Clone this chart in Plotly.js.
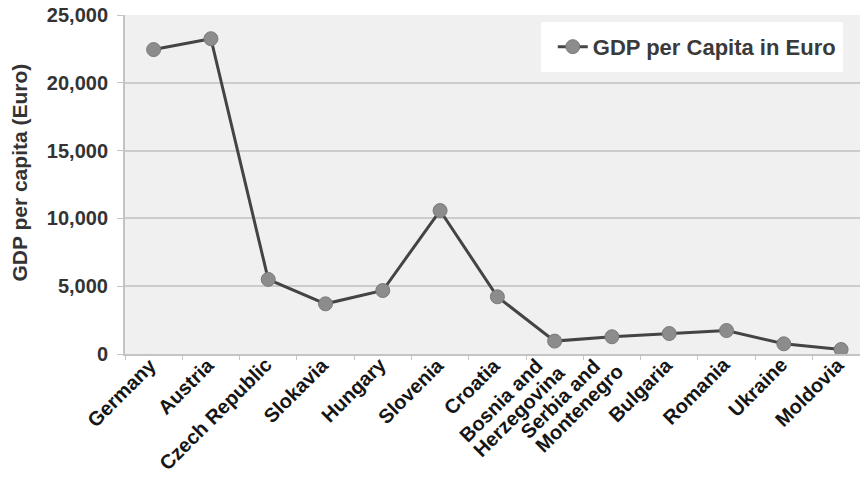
<!DOCTYPE html>
<html>
<head>
<meta charset="utf-8">
<script src="https://cdn.plot.ly/plotly-3.0.1.min.js"></script>
<style>
html,body{margin:0;padding:0;background:#fff;overflow:hidden;}
#chart{width:860px;height:484px;}
</style>
</head>
<body>
<div id="chart"></div>
<script>
const countries = ["Germany","Austria","Czech Republic","Slokavia","Hungary","Slovenia","Croatia","Bosnia and<br>Herzegovina","Serbia and<br>Montenegro","Bulgaria","Romania","Ukraine","Moldovia"];
const gdpPerCapita = [22450,23250,5500,3700,4680,10580,4220,950,1270,1510,1730,750,330];
const yTicks = [0,5000,10000,15000,20000,25000];
const yTickLabels = ["0","5,000","10,000","15,000","20,000","25,000"];
const seriesName = "GDP per Capita in Euro";
const yTitle = "GDP per capita (Euro)";

const FONT = "Liberation Sans, Arial, sans-serif";
const XFONT_SIZE = 20;
const LINE_STEP = 20;      // perpendicular spacing between label lines (px)
const BASE_DX = 9, BASE_DY = 2;

// measure label line widths to left-align multi-line rotated labels
const cv = document.createElement("canvas").getContext("2d");
cv.font = "bold " + XFONT_SIZE + "px 'Liberation Sans', Arial, sans-serif";
const R = Math.SQRT1_2;
const labelAnnotations = [];
countries.forEach(function (cat) {
  const lines = cat.split("<br>");
  const widths = lines.map(function (s) { return cv.measureText(s).width; });
  const maxW = Math.max.apply(null, widths);
  const n = lines.length;
  lines.forEach(function (s, j) {
    const p = (j - (n - 1) / 2) * LINE_STEP;   // perpendicular (down-right)
    const a = -(maxW - widths[j]);              // along text direction
    labelAnnotations.push({
      text: s, x: cat, xref: "x", y: 0, yref: "paper",
      xanchor: "right", yanchor: "top", textangle: -45, showarrow: false,
      borderpad: 0,
      xshift: BASE_DX + a * R + p * R,
      yshift: BASE_DY + a * R - p * R,
      font: {family: FONT, size: XFONT_SIZE, color: "#151515", weight: "bold"}
    });
  });
});

const trace = {
  x: countries,
  y: gdpPerCapita,
  type: "scatter",
  mode: "lines+markers",
  name: seriesName,
  line: {color: "#444444", width: 3},
  marker: {color: "#8c8c8c", size: 14, line: {color: "#7a7a7a", width: 1}},
  hoverinfo: "none"
};

const layout = {
  width: 860,
  height: 484,
  margin: {l: 125, r: 0, t: 15, b: 130, pad: 0},
  paper_bgcolor: "#ffffff",
  plot_bgcolor: "#f0f0f0",
  font: {family: FONT, color: "#333333"},
  showlegend: true,
  xaxis: {
    type: "category",
    range: [-0.5, 12.33],
    showgrid: false,
    showline: true,
    linecolor: "#c4c4c4",
    linewidth: 2,
    ticks: "outside",
    tickson: "boundaries",
    ticklen: 4,
    tickcolor: "#c4c4c4",
    showticklabels: false,
    zeroline: false,
    fixedrange: true
  },
  yaxis: {
    range: [0, 25000],
    tickvals: yTicks,
    ticktext: yTickLabels,
    showgrid: true,
    gridcolor: "#cccccc",
    gridwidth: 2,
    showline: true,
    linecolor: "#c4c4c4",
    linewidth: 2,
    ticks: "outside",
    ticklen: 6,
    ticklabelstandoff: 5,
    tickcolor: "#c4c4c4",
    tickfont: {family: FONT, size: 20, color: "#333333", weight: "bold"},
    zeroline: false,
    fixedrange: true
  },
  annotations: [{
    text: yTitle, textangle: -90,
    xref: "paper", yref: "paper", x: -0.143, y: 0.535,
    xanchor: "center", yanchor: "middle", showarrow: false,
    font: {family: FONT, size: 21, color: "#333333", weight: "bold"}
  }].concat(labelAnnotations),
  shapes: [{
    type: "rect", xref: "paper", yref: "paper",
    x0: 0.566, x1: 0.977, y0: 0.832, y1: 0.979,
    fillcolor: "#ffffff", line: {width: 0}, layer: "below"
  }],
  legend: {
    x: 0.582, y: 0.906, xanchor: "left", yanchor: "middle",
    bgcolor: "rgba(0,0,0,0)", borderwidth: 0,
    font: {family: FONT, size: 22, color: "#3a3a3a", weight: "bold"},
    itemwidth: 30
  }
};

Plotly.newPlot("chart", [trace], layout, {displayModeBar: false, staticPlot: true});
</script>
</body>
</html>
